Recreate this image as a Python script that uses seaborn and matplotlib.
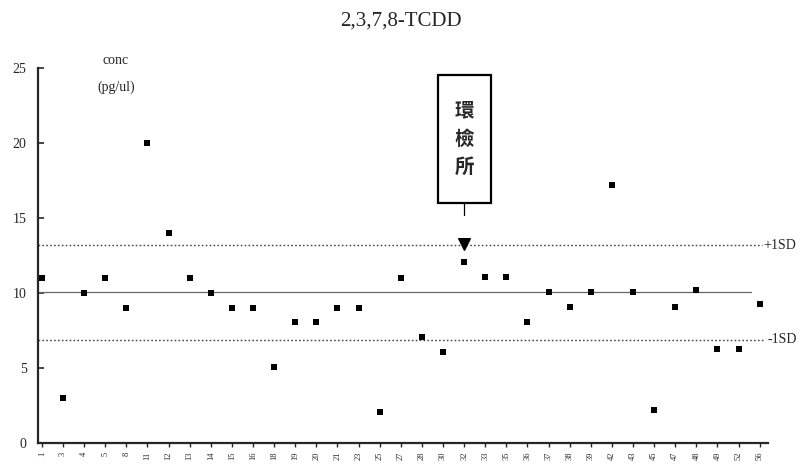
import numpy as np
import pandas as pd
import seaborn as sns
import matplotlib.pyplot as plt
from matplotlib.patches import Rectangle

# --- data ---
sample_ids = ["1", "3", "4", "5", "8", "11", "12", "13", "14", "15", "16", "18",
              "19", "20", "21", "23", "25", "27", "28", "30", "32", "33", "35", "36",
              "37", "38", "39", "42", "43", "45", "47", "48", "49", "52", "56"]
conc = [11.0, 3.0, 10.0, 11.0, 9.0, 20.0, 14.0, 11.0, 10.0, 9.0, 9.0, 5.1,
        8.1, 8.1, 9.0, 9.0, 2.1, 11.0, 7.1, 6.1, 12.1, 11.1, 11.1, 8.1,
        10.1, 9.1, 10.1, 17.2, 10.1, 2.2, 9.1, 10.2, 6.3, 6.3, 9.3]
mean_val = 10.1
plus_sd = 13.2
minus_sd = 6.9
lab_index = 20          # 環檢所 result
lab_marker = 13.3
y_ticks = [0, 5, 10, 15, 20, 25]

sns.set_style("ticks")
plt.rcParams['font.family'] = ['Liberation Serif', 'DejaVu Serif']

df = pd.DataFrame({"idx": np.arange(len(conc)), "conc": conc})

fig = plt.figure(figsize=(8.01, 4.68), dpi=100)
ax = fig.add_axes([0.047, 0.053, 0.912, 0.802])

sns.scatterplot(data=df, x="idx", y="conc", marker="s", s=20, color="black",
                edgecolor="black", linewidth=0, ax=ax, zorder=3)

x0, x1 = -0.2, 34.4
ax.plot([x0, 33.6], [mean_val, mean_val], color="#666666", lw=0.9)
ax.plot([x0, 34.1], [plus_sd, plus_sd], color="#444444", lw=1.0, ls=(0, (1.2, 1.6)))
ax.plot([x0, 34.2], [minus_sd, minus_sd], color="#444444", lw=1.0, ls=(0, (1.2, 1.6)))
ax.text(34.15, plus_sd, "+1SD", fontsize=10, va="center", ha="left")
ax.text(34.35, minus_sd, "-1SD", fontsize=10, va="center", ha="left")

# lab marker + labelled box
ax.scatter([lab_index], [lab_marker], marker="v", s=70, color="black", zorder=4)
ax.plot([lab_index, lab_index], [15.2, 16.0], color="black", lw=0.9)
ax.add_patch(Rectangle((lab_index - 1.25, 16.0), 2.5, 8.5, fill=False,
                       edgecolor="black", lw=1.6))
ax.text(lab_index, 20.25, "環\n檢\n所", fontsize=14, ha="center", va="center",
        family=['Noto Sans CJK TC', 'DejaVu Sans'], fontweight="bold",
        linespacing=1.6)

ax.text(3.5, 25.5, "conc", fontsize=10, ha="center", va="center")
ax.text(3.5, 23.7, "(pg/ul)", fontsize=10, ha="center", va="center")

ax.set_xlim(x0, x1)
ax.set_ylim(0, 25)
ax.set_yticks(y_ticks)
ax.set_yticklabels([str(v) for v in y_ticks], fontsize=10)
ax.set_xticks(df["idx"])
ax.set_xticklabels(sample_ids, rotation=90, fontsize=6)
ax.tick_params(axis="y", direction="in", length=4, width=1.2, pad=8)
ax.tick_params(axis="x", direction="out", length=3, width=1.0, pad=3)
ax.set_xlabel("")
ax.set_ylabel("")
sns.despine(ax=ax)
for sp in ["left", "bottom"]:
    ax.spines[sp].set_linewidth(1.6)
ax.spines["left"].set_bounds(0, 25)

fig.suptitle("2,3,7,8-TCDD", fontsize=15, y=0.975, x=0.5)

fig.savefig("out.png", dpi=100)
